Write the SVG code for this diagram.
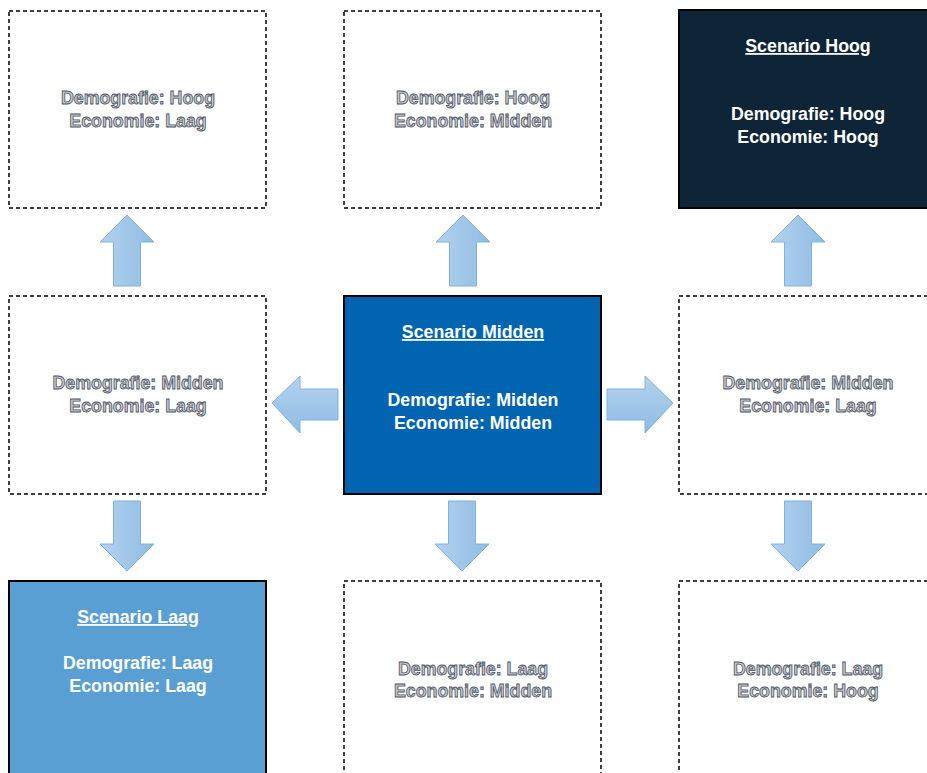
<svg xmlns="http://www.w3.org/2000/svg" width="927" height="773" viewBox="0 0 927 773">
<defs>
<linearGradient id="gv" x1="0" y1="0" x2="1" y2="0"><stop offset="0" stop-color="#b4d2ee"/><stop offset="1" stop-color="#8ebce4"/></linearGradient>
<linearGradient id="gh" x1="0" y1="0" x2="0" y2="1"><stop offset="0" stop-color="#b4d2ee"/><stop offset="1" stop-color="#8ebce4"/></linearGradient>
<style>
.dash{fill:#ffffff;stroke:#000000;stroke-width:1.5;stroke-dasharray:4 3}
.solid{stroke:#000000;stroke-width:2}
.t{font-family:"Liberation Sans",Arial,sans-serif;font-weight:bold;font-size:17.8px;text-anchor:middle}
.g{fill:#c8c8c8;stroke:#4e5668;stroke-width:0.8}
.w{fill:#ffffff}
.u{text-decoration:underline}
.av{fill:url(#gv);stroke:#7fb2dd;stroke-width:1}
.ah{fill:url(#gh);stroke:#7fb2dd;stroke-width:1}
</style>
</defs>
<rect width="927" height="773" fill="#ffffff"/>
<g id="connectors">
<polygon class="av" points="127,215 154,242 140.5,242 140.5,286 113.5,286 113.5,242 100,242"/>
<polygon class="av" points="463,215 490,242 476.5,242 476.5,286 449.5,286 449.5,242 436,242"/>
<polygon class="av" points="798,215 825,242 811.5,242 811.5,286 784.5,286 784.5,242 771,242"/>
<polygon class="av" points="127,571 154,544 140.5,544 140.5,501 113.5,501 113.5,544 100,544"/>
<polygon class="av" points="462,571 489,544 475.5,544 475.5,501 448.5,501 448.5,544 435,544"/>
<polygon class="av" points="798,571 825,544 811.5,544 811.5,501 784.5,501 784.5,544 771,544"/>
<polygon class="ah" points="272,403 300,376 300,389 338,389 338,420 300,420 300,433"/>
<polygon class="ah" points="673,403 645,376 645,389 607,389 607,420 645,420 645,433"/>
</g>
<g id="n-hoog-laag">
<rect class="dash" x="9" y="11" width="257" height="197"/>
<text class="t g" x="138" y="104">Demografie: Hoog</text>
<text class="t g" x="138" y="127">Economie: Laag</text>
</g>
<g id="n-hoog-midden">
<rect class="dash" x="344" y="11" width="257" height="197"/>
<text class="t g" x="473" y="104">Demografie: Hoog</text>
<text class="t g" x="473" y="127">Economie: Midden</text>
</g>
<g id="n-scenario-hoog">
<rect class="solid" x="679" y="10" width="257" height="198" fill="#0e2538"/>
<text class="t w u" x="808" y="52">Scenario Hoog</text>
<text class="t w" x="808" y="120">Demografie: Hoog</text>
<text class="t w" x="808" y="143">Economie: Hoog</text>
</g>
<g id="n-midden-laag-left">
<rect class="dash" x="9" y="296" width="257" height="198"/>
<text class="t g" x="138" y="389">Demografie: Midden</text>
<text class="t g" x="138" y="412">Economie: Laag</text>
</g>
<g id="n-scenario-midden">
<rect class="solid" x="344" y="296" width="257" height="198" fill="#0064b0"/>
<text class="t w u" x="473" y="338">Scenario Midden</text>
<text class="t w" x="473" y="406">Demografie: Midden</text>
<text class="t w" x="473" y="429">Economie: Midden</text>
</g>
<g id="n-midden-laag-right">
<rect class="dash" x="679" y="296" width="257" height="198"/>
<text class="t g" x="808" y="389">Demografie: Midden</text>
<text class="t g" x="808" y="412">Economie: Laag</text>
</g>
<g id="n-scenario-laag">
<rect class="solid" x="9" y="581" width="257" height="198" fill="#5a9fd4"/>
<text class="t w u" x="138" y="623">Scenario Laag</text>
<text class="t w" x="138" y="669">Demografie: Laag</text>
<text class="t w" x="138" y="692">Economie: Laag</text>
</g>
<g id="n-laag-midden">
<rect class="dash" x="344" y="581" width="257" height="198"/>
<text class="t g" x="473" y="675">Demografie: Laag</text>
<text class="t g" x="473" y="697">Economie: Midden</text>
</g>
<g id="n-laag-hoog">
<rect class="dash" x="679" y="581" width="257" height="198"/>
<text class="t g" x="808" y="675">Demografie: Laag</text>
<text class="t g" x="808" y="697">Economie: Hoog</text>
</g>
</svg>
